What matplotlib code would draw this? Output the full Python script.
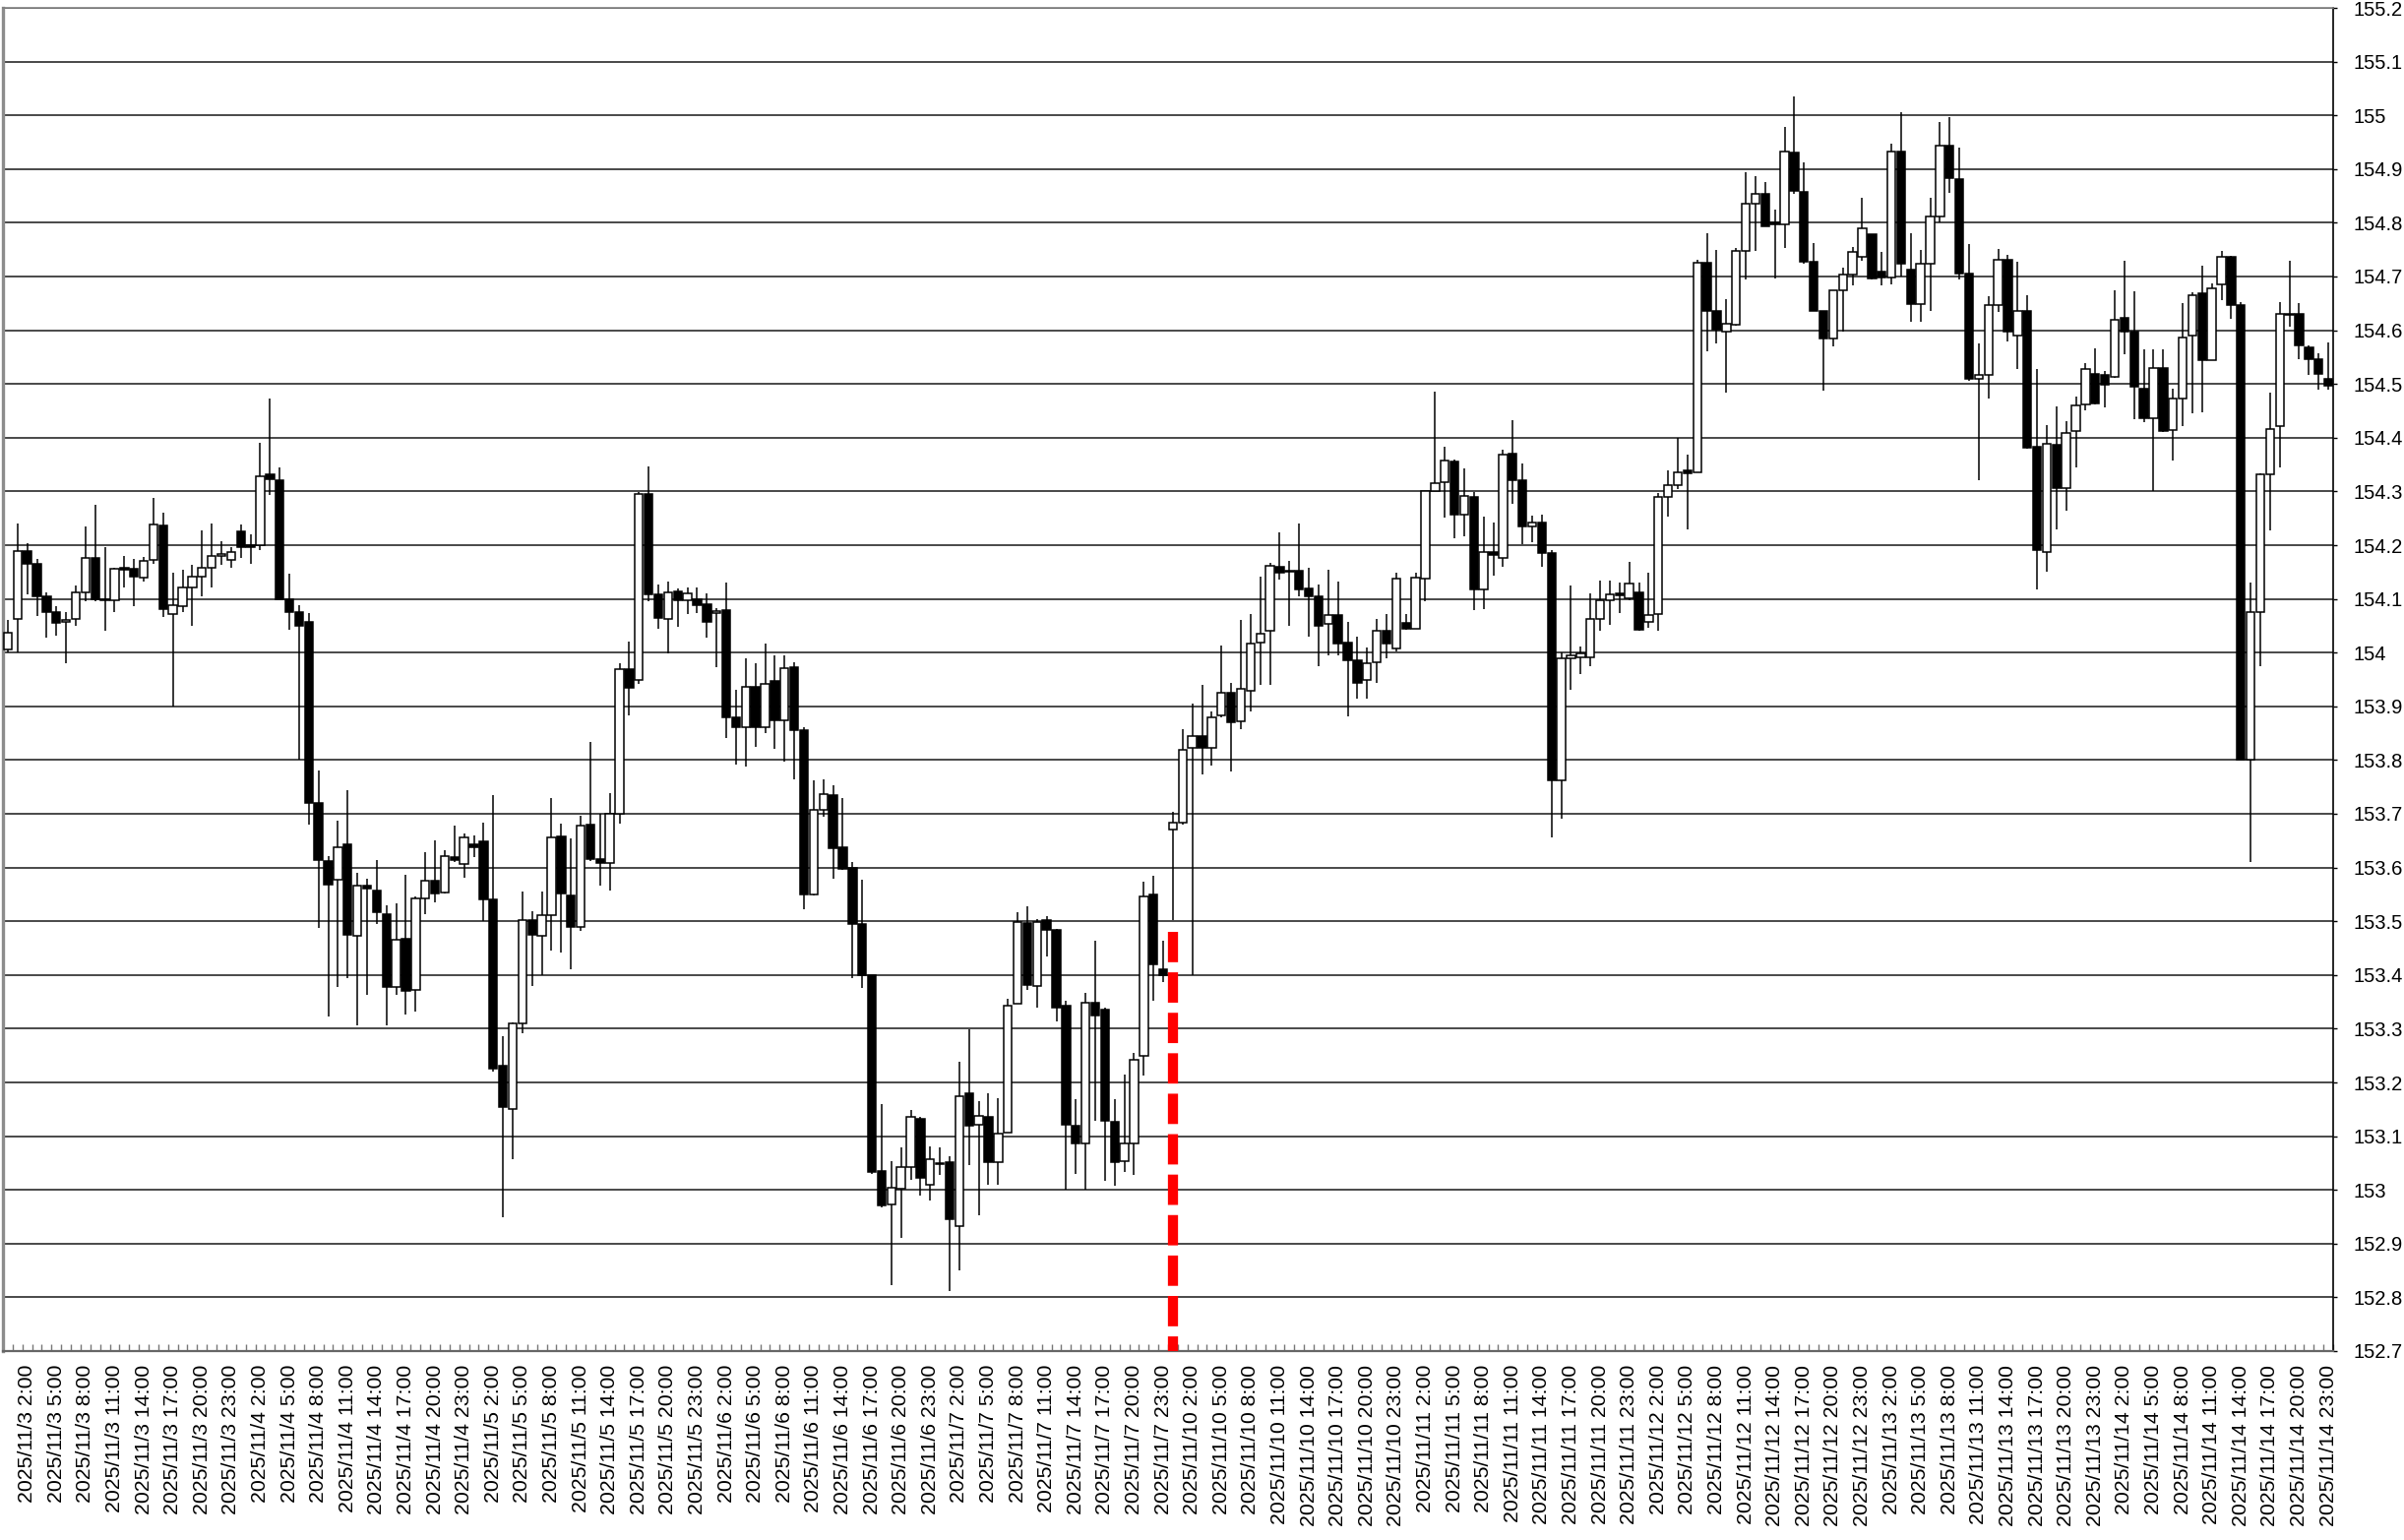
import matplotlib
matplotlib.use("Agg")
import matplotlib.pyplot as plt
import numpy as np
import pandas as pd

# hourly bars, two trading weeks (weekend skipped)
week1 = pd.date_range("2025-11-03 00:00", "2025-11-07 23:00", freq="h")
week2 = pd.date_range("2025-11-10 00:00", "2025-11-14 23:00", freq="h")
times = list(week1) + list(week2)

opens = [
    154.005, 154.063, 154.189, 154.165, 154.104, 154.075, 154.057, 154.063, 154.113, 154.176, 154.100, 154.098,
    154.157, 154.156, 154.139, 154.173, 154.237, 154.072, 154.087, 154.121, 154.141, 154.157, 154.180, 154.173,
    154.226, 154.200, 154.200, 154.332, 154.320, 154.100, 154.075, 154.057, 153.720, 153.612, 153.578, 153.643,
    153.473, 153.566, 153.558, 153.513, 153.378, 153.468, 153.373, 153.543, 153.576, 153.554, 153.620, 153.607,
    153.643, 153.648, 153.541, 153.232, 153.151, 153.309, 153.503, 153.472, 153.511, 153.658, 153.548, 153.490,
    153.679, 153.616, 153.609, 153.700, 153.970, 153.949, 154.295, 154.109, 154.063, 154.114, 154.097, 154.099,
    154.090, 154.073, 154.080, 153.880, 153.862, 153.937, 153.861, 153.947, 153.874, 153.972, 153.856, 153.550,
    153.708, 153.735, 153.637, 153.599, 153.495, 153.400, 153.035, 152.972, 153.002, 153.043, 153.133, 153.010,
    153.050, 153.052, 152.933, 153.179, 153.121, 153.136, 153.052, 153.107, 153.347, 153.497, 153.380, 153.502,
    153.483, 153.342, 153.120, 153.087, 153.348, 153.336, 153.127, 153.054, 153.086, 153.249, 153.550, 153.410,
    153.670, 153.684, 153.822, 153.845, 153.822, 153.883, 153.926, 153.872, 153.929, 154.019, 154.040, 154.160,
    154.152, 154.153, 154.120, 154.105, 154.053, 154.070, 154.018, 153.985, 153.950, 153.982, 154.041, 154.008,
    154.055, 154.044, 154.138, 154.301, 154.317, 154.356, 154.257, 154.289, 154.118, 154.188, 154.176, 154.370,
    154.321, 154.234, 154.242, 154.186, 153.763, 153.990, 153.992, 153.992, 154.063, 154.098, 154.110, 154.102,
    154.112, 154.058, 154.072, 154.289, 154.312, 154.339, 154.336, 154.725, 154.635, 154.597, 154.611, 154.748,
    154.836, 154.853, 154.800, 154.797, 154.930, 154.858, 154.727, 154.636, 154.584, 154.675, 154.704, 154.736,
    154.778, 154.710, 154.698, 154.933, 154.713, 154.648, 154.724, 154.811, 154.943, 154.881, 154.706, 154.510,
    154.517, 154.647, 154.732, 154.590, 154.635, 154.384, 154.188, 154.386, 154.306, 154.413, 154.462, 154.519,
    154.517, 154.514, 154.623, 154.597, 154.492, 154.436, 154.530, 154.415, 154.473, 154.590, 154.669, 154.545,
    154.685, 154.737, 154.647, 153.800, 154.076, 154.331, 154.422, 154.628, 154.630, 154.568, 154.547, 154.510,
]
highs = [
    154.061, 154.240, 154.203, 154.175, 154.113, 154.086, 154.075, 154.124, 154.234, 154.276, 154.197, 154.157,
    154.179, 154.175, 154.178, 154.287, 154.260, 154.148, 154.154, 154.164, 154.228, 154.240, 154.208, 154.197,
    154.239, 154.220, 154.390, 154.472, 154.345, 154.147, 154.089, 154.073, 153.780, 153.622, 153.688, 153.744,
    153.590, 153.580, 153.614, 153.530, 153.534, 153.587, 153.546, 153.629, 153.651, 153.632, 153.678, 153.663,
    153.660, 153.683, 153.734, 153.286, 153.312, 153.556, 153.518, 153.555, 153.730, 153.681, 153.655, 153.697,
    153.833, 153.700, 153.739, 153.980, 154.021, 154.299, 154.346, 154.127, 154.132, 154.119, 154.122, 154.122,
    154.110, 154.083, 154.130, 153.930, 153.990, 153.980, 154.016, 153.995, 153.995, 153.982, 153.861, 153.763,
    153.764, 153.754, 153.730, 153.610, 153.577, 153.400, 153.160, 153.054, 153.079, 153.148, 153.135, 153.081,
    153.080, 153.062, 153.239, 153.298, 153.165, 153.179, 153.170, 153.356, 153.516, 153.527, 153.504, 153.510,
    153.486, 153.352, 153.168, 153.367, 153.464, 153.339, 153.168, 153.214, 153.255, 153.574, 153.584, 153.464,
    153.704, 153.858, 153.906, 153.940, 153.890, 154.014, 153.944, 154.060, 154.072, 154.142, 154.167, 154.224,
    154.170, 154.240, 154.157, 154.127, 154.154, 154.132, 154.057, 154.030, 154.010, 154.063, 154.072, 154.148,
    154.072, 154.148, 154.300, 154.485, 154.383, 154.360, 154.342, 154.298, 154.254, 154.242, 154.378, 154.432,
    154.352, 154.255, 154.257, 154.190, 154.000, 154.124, 154.012, 154.110, 154.134, 154.134, 154.131, 154.168,
    154.131, 154.148, 154.297, 154.339, 154.400, 154.369, 154.731, 154.780, 154.750, 154.658, 154.753, 154.895,
    154.887, 154.875, 154.824, 154.978, 155.035, 154.913, 154.763, 154.636, 154.675, 154.717, 154.755, 154.846,
    154.778, 154.746, 154.948, 155.005, 154.780, 154.750, 154.846, 154.988, 154.997, 154.940, 154.760, 154.576,
    154.663, 154.751, 154.741, 154.727, 154.666, 154.528, 154.424, 154.459, 154.431, 154.476, 154.538, 154.566,
    154.524, 154.675, 154.730, 154.672, 154.564, 154.564, 154.564, 154.492, 154.650, 154.670, 154.721, 154.688,
    154.748, 154.739, 154.652, 154.131, 154.334, 154.483, 154.653, 154.730, 154.650, 154.571, 154.557, 154.578,
]
lows = [
    154.000, 154.000, 154.109, 154.069, 154.027, 154.031, 153.980, 154.050, 154.096, 154.096, 154.041, 154.075,
    154.121, 154.087, 154.132, 154.165, 154.067, 153.900, 154.075, 154.050, 154.105, 154.121, 154.164, 154.157,
    154.176, 154.165, 154.190, 154.294, 154.100, 154.042, 153.800, 153.680, 153.487, 153.322, 153.378, 153.395,
    153.307, 153.363, 153.495, 153.307, 153.363, 153.327, 153.332, 153.513, 153.536, 153.551, 153.610, 153.581,
    153.620, 153.500, 153.220, 152.950, 153.057, 153.291, 153.380, 153.400, 153.446, 153.442, 153.410, 153.482,
    153.612, 153.567, 153.557, 153.681, 153.884, 153.941, 154.096, 154.045, 153.998, 154.048, 154.071, 154.073,
    154.027, 153.972, 153.841, 153.792, 153.788, 153.825, 153.851, 153.820, 153.797, 153.764, 153.522, 153.548,
    153.695, 153.580, 153.596, 153.395, 153.376, 153.030, 152.967, 152.822, 152.910, 153.019, 152.990, 152.980,
    153.028, 152.811, 152.850, 153.046, 152.953, 153.010, 153.010, 153.107, 153.347, 153.373, 153.340, 153.434,
    153.314, 153.000, 153.029, 153.000, 153.129, 153.016, 153.007, 153.034, 153.028, 153.213, 153.352, 153.387,
    153.503, 153.680, 153.400, 153.773, 153.790, 153.880, 153.778, 153.858, 153.890, 153.940, 153.940, 154.136,
    154.050, 154.105, 154.029, 153.974, 153.995, 153.995, 153.881, 153.914, 153.914, 153.943, 153.989, 154.003,
    154.042, 154.044, 154.096, 154.300, 154.252, 154.213, 154.216, 154.079, 154.081, 154.144, 154.159, 154.277,
    154.202, 154.206, 154.160, 153.656, 153.690, 153.930, 153.960, 153.975, 154.040, 154.052, 154.073, 154.097,
    154.040, 154.046, 154.040, 154.253, 154.304, 154.229, 154.336, 154.561, 154.575, 154.483, 154.609, 154.694,
    154.748, 154.793, 154.696, 154.753, 154.853, 154.724, 154.636, 154.487, 154.570, 154.597, 154.683, 154.730,
    154.694, 154.683, 154.685, 154.700, 154.616, 154.616, 154.636, 154.801, 154.855, 154.694, 154.505, 154.320,
    154.473, 154.634, 154.580, 154.528, 154.379, 154.118, 154.150, 154.230, 154.265, 154.344, 154.451, 154.462,
    154.457, 154.511, 154.555, 154.434, 154.429, 154.301, 154.410, 154.358, 154.422, 154.445, 154.448, 154.545,
    154.656, 154.621, 153.800, 153.610, 153.974, 154.227, 154.344, 154.606, 154.547, 154.517, 154.490, 154.490,
]
closes = [
    154.037, 154.189, 154.165, 154.104, 154.075, 154.055, 154.061, 154.112, 154.176, 154.100, 154.098, 154.156,
    154.155, 154.141, 154.171, 154.239, 154.081, 154.088, 154.121, 154.141, 154.157, 154.180, 154.183, 154.188,
    154.197, 154.196, 154.328, 154.322, 154.100, 154.075, 154.050, 153.720, 153.614, 153.568, 153.637, 153.475,
    153.566, 153.560, 153.517, 153.378, 153.466, 153.371, 153.543, 153.576, 153.551, 153.622, 153.614, 153.656,
    153.637, 153.541, 153.225, 153.154, 153.309, 153.502, 153.475, 153.511, 153.656, 153.552, 153.490, 153.678,
    153.616, 153.608, 153.700, 153.970, 153.934, 154.295, 154.109, 154.065, 154.112, 154.097, 154.111, 154.088,
    154.057, 154.078, 153.880, 153.862, 153.937, 153.861, 153.941, 153.874, 153.971, 153.856, 153.550, 153.708,
    153.737, 153.635, 153.597, 153.495, 153.400, 153.034, 152.971, 153.004, 153.042, 153.135, 153.022, 153.057,
    153.048, 152.945, 153.174, 153.120, 153.137, 153.051, 153.104, 153.342, 153.498, 153.381, 153.498, 153.483,
    153.339, 153.121, 153.087, 153.348, 153.324, 153.129, 153.052, 153.086, 153.243, 153.547, 153.420, 153.400,
    153.683, 153.819, 153.845, 153.822, 153.880, 153.926, 153.870, 153.932, 154.017, 154.035, 154.162, 154.148,
    154.150, 154.117, 154.104, 154.050, 154.070, 154.017, 153.986, 153.943, 153.980, 154.040, 154.017, 154.138,
    154.044, 154.140, 154.300, 154.315, 154.358, 154.257, 154.291, 154.118, 154.187, 154.182, 154.368, 154.321,
    154.234, 154.243, 154.186, 153.763, 153.990, 153.995, 153.998, 154.063, 154.098, 154.108, 154.107, 154.129,
    154.043, 154.070, 154.289, 154.312, 154.336, 154.334, 154.725, 154.635, 154.601, 154.612, 154.748, 154.836,
    154.854, 154.793, 154.797, 154.933, 154.860, 154.727, 154.636, 154.584, 154.675, 154.704, 154.746, 154.790,
    154.696, 154.698, 154.933, 154.723, 154.649, 154.724, 154.811, 154.943, 154.884, 154.706, 154.510, 154.517,
    154.647, 154.732, 154.597, 154.635, 154.382, 154.190, 154.388, 154.306, 154.408, 154.460, 154.528, 154.464,
    154.498, 154.620, 154.597, 154.495, 154.436, 154.530, 154.413, 154.472, 154.587, 154.666, 154.545, 154.678,
    154.737, 154.647, 153.800, 154.076, 154.331, 154.417, 154.630, 154.630, 154.571, 154.547, 154.519, 154.497,
]

y_min, y_max = 152.7, 155.2
label_every = 3          # one date label every 3 bars, starting at 2:00
marker_bar = 120         # red dashed marker: first bar of the second week
marker_top = 153.48

plt.rcParams['font.family'] = ['Liberation Sans', 'DejaVu Sans']

W, H = 2443, 1565
fig = plt.figure(figsize=(W / 100, H / 100), dpi=100)
ax = fig.add_axes([3 / W, 192 / H, 2368 / W, 1365 / H])

x = np.arange(len(times))
o = np.array(opens)
h = np.array(highs)
l = np.array(lows)
c = np.array(closes)
up = c >= o
body_lo = np.minimum(o, c)
body_h = np.maximum(np.abs(c - o), 0.002)

# wicks first, bodies on top
ax.vlines(x, l, h, color='black', lw=1.1, zorder=2)
ax.bar(x[up], body_h[up], bottom=body_lo[up], width=0.85,
       color='white', edgecolor='black', linewidth=1.1, zorder=3)
ax.bar(x[~up], body_h[~up], bottom=body_lo[~up], width=0.85,
       color='black', edgecolor='black', linewidth=1.1, zorder=3)

ax.plot([marker_bar, marker_bar], [marker_top, y_min], color='red', lw=7.4,
        linestyle=(0, (3, 1)), dash_capstyle='butt', zorder=4)

ax.set_xlim(-0.5, len(times) - 0.5)
ax.set_ylim(y_min, y_max)

yt = np.round(np.arange(y_min, y_max + 0.001, 0.1), 1)
ax.set_yticks(yt)
ax.set_yticklabels([f"{v:g}" for v in yt])
ax.yaxis.tick_right()
ax.tick_params(axis='y', direction='out', length=3, width=1, pad=12,
               labelsize=14.5, colors='black')
ax.grid(axis='y', color='#3a3a3a', lw=1.3, zorder=0)
ax.set_axisbelow(True)

lab_idx = x[2::label_every]
ax.set_xticks(lab_idx)
ax.set_xticklabels([f"{t.year}/{t.month}/{t.day} {t.hour}:{t.minute:02d}"
                    for t in (times[i] for i in lab_idx)], rotation=90)
ax.set_xticks(np.arange(-0.5, len(times), 1), minor=True)
ax.tick_params(axis='x', which='major', length=0, pad=10, labelsize=15.3)
ax.tick_params(axis='x', which='minor', direction='in', length=5,
               width=1, color='#777777')

ax.spines['left'].set_color('#8c8c8c')
ax.spines['left'].set_linewidth(2.4)
ax.spines['right'].set_color('black')
ax.spines['right'].set_linewidth(1.2)
ax.spines['top'].set_color('#808080')
ax.spines['top'].set_linewidth(1.2)
ax.spines['bottom'].set_color('#666666')
ax.spines['bottom'].set_linewidth(1.6)

fig.savefig('out.png', dpi=100)
